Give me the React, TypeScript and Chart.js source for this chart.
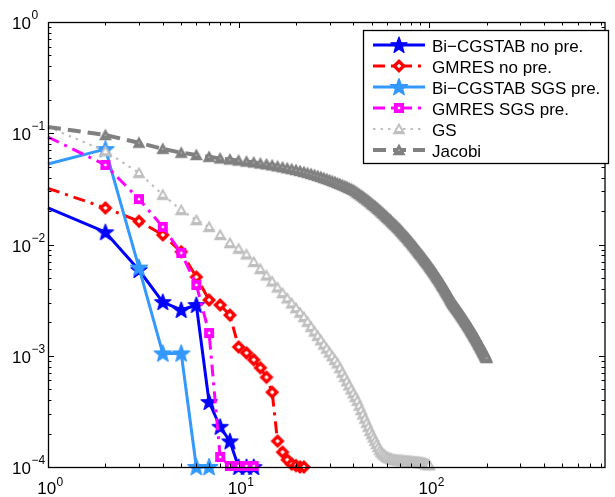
import React, { useEffect, useRef } from "react";
import { Chart, registerables } from "chart.js";

Chart.register(...registerables);

// ---------------- data (residual vs. iteration, iteration = index + 1) ----------------
const SERIES_NAMES = [
  "Bi−CGSTAB no pre.",
  "GMRES no pre.",
  "Bi−CGSTAB SGS pre.",
  "GMRES SGS pre.",
  "GS",
  "Jacobi",
];

const BICG_NOPRE = [0.0213, 0.0129, 0.0059, 0.00304, 0.00258, 0.00286, 0.000384, 0.00023, 0.00017, 0.0001, 0.0001, 0.0001];

const GMRES_NOPRE = [
  0.032, 0.0213, 0.0162, 0.0122, 0.0086, 0.0051, 0.00317, 0.00286, 0.00232, 0.0012,
  0.00106, 0.00092, 0.00078, 0.00064, 0.00047, 0.000171, 0.000136, 0.000116, 0.000106, 0.000103,
  0.0001, 0.0001,
];

const BICG_SGS = [0.053, 0.072, 0.0062, 0.00105, 0.00105, 0.0001, 0.0001];

const GMRES_SGS = [0.0925, 0.0519, 0.0256, 0.0144, 0.0084, 0.00433, 0.0016, 0.000123, 0.000102, 0.000102, 0.000102, 0.000102];

const GS = [
  0.114, 0.069, 0.044, 0.028, 0.0204, 0.0166, 0.0144, 0.0122, 0.0103, 0.00916,
  0.00815, 0.00697, 0.00603, 0.00527, 0.00465, 0.00411, 0.00366, 0.00328, 0.00296, 0.00268,
  0.00244, 0.00223, 0.00202, 0.00182, 0.00165, 0.00151, 0.00138, 0.00126, 0.00116, 0.00107,
  0.00099, 0.000918, 0.000855, 0.000774, 0.000705, 0.000646, 0.00059, 0.000542, 0.000499, 0.00046,
  0.000426, 0.000393, 0.000356, 0.000325, 0.000297, 0.000272, 0.00025, 0.00023, 0.000211, 0.000197,
  0.000184, 0.000172, 0.000161, 0.000151, 0.000142, 0.000136, 0.000132, 0.000129, 0.000126, 0.000123,
  0.000121, 0.00012, 0.000119, 0.0001175, 0.0001167, 0.0001161, 0.0001156, 0.0001153, 0.0001151, 0.0001148,
  0.0001145, 0.0001143, 0.000114, 0.0001138, 0.0001135, 0.0001132, 0.000113, 0.0001127, 0.0001125, 0.0001122,
  0.0001119, 0.0001117, 0.0001114, 0.0001112, 0.0001109, 0.0001107, 0.0001104, 0.0001102, 0.0001099, 0.0001096,
  0.0001094, 0.0001091, 0.0001086, 0.0001081, 0.0001076, 0.0001069, 0.0001062, 0.0001054, 0.0001047, 0.000104,
];

const JACOBI = [
  0.114, 0.0964, 0.0822, 0.0724, 0.0668, 0.0638, 0.0614, 0.0594, 0.0581, 0.0569,
  0.0557, 0.0547, 0.0536, 0.0526, 0.0515, 0.0505, 0.0495, 0.0485, 0.0476, 0.0467,
  0.0458, 0.0449, 0.044, 0.0431, 0.0422, 0.0413, 0.0405, 0.0396, 0.0388, 0.038,
  0.0372, 0.0365, 0.0357, 0.035, 0.0343, 0.0336, 0.0329, 0.0322, 0.0316, 0.0309,
  0.0301, 0.0292, 0.0284, 0.0276, 0.0269, 0.0261, 0.0254, 0.0247, 0.024, 0.0233,
  0.0227, 0.0221, 0.0215, 0.0209, 0.0203, 0.0198, 0.0192, 0.0187, 0.0182, 0.0177,
  0.0172, 0.0168, 0.0164, 0.0159, 0.0155, 0.0151, 0.0148, 0.0144, 0.014, 0.0137,
  0.0133, 0.013, 0.0126, 0.0123, 0.012, 0.0117, 0.0114, 0.0111, 0.0108, 0.0106,
  0.0103, 0.01, 0.0098, 0.00955, 0.00929, 0.00906, 0.00883, 0.00861, 0.00839, 0.0082,
  0.00802, 0.00782, 0.00764, 0.00746, 0.00729, 0.00711, 0.00695, 0.00679, 0.00664, 0.00647,
  0.00632, 0.00618, 0.00604, 0.00589, 0.00575, 0.00562, 0.0055, 0.00537, 0.00524, 0.00512,
  0.005, 0.00489, 0.00476, 0.00466, 0.00455, 0.00445, 0.00434, 0.00424, 0.00414, 0.00405,
  0.00395, 0.00385, 0.00377, 0.00368, 0.0036, 0.00351, 0.00343, 0.00335, 0.00327, 0.00319,
  0.00312, 0.00305, 0.00298, 0.00293, 0.00288, 0.00283, 0.00279, 0.00274, 0.00269, 0.00264,
  0.0026, 0.00256, 0.00251, 0.00247, 0.00243, 0.00239, 0.00235, 0.00231, 0.00227, 0.00223,
  0.00219, 0.00216, 0.00212, 0.00208, 0.00205, 0.00201, 0.00198, 0.00195, 0.00191, 0.00188,
  0.00185, 0.00182, 0.00179, 0.00176, 0.00173, 0.0017, 0.00167, 0.00164, 0.00161, 0.00159,
  0.00156, 0.00153, 0.00151, 0.00148, 0.00146, 0.00144, 0.00141, 0.00139, 0.00136, 0.00134,
  0.00132, 0.00129, 0.00127, 0.00125, 0.00123, 0.00121, 0.00119, 0.00117, 0.00115, 0.00113,
  0.00111, 0.00109, 0.00107, 0.00106, 0.00104, 0.00102, 0.001, 0.000986, 0.00097, 0.000955,
];

const X_MIN = 1;
const X_MAX = 836;
const Y_MIN = 1e-4;
const Y_MAX = 1;
const X_MAJOR = [1, 10, 100];
const X_MAJOR_EXP = ["0", "1", "2"];
const Y_MAJOR = [1e-4, 1e-3, 1e-2, 1e-1, 1];
const Y_MAJOR_EXP = ["−4", "−3", "−2", "−1", "0"];

// ---------------- styles ----------------
const COLORS = ["#0000ff", "#ff0000", "#3399ff", "#ff00ff", "#bfbfbf", "#808080"];
const WIDTHS = [3, 3, 3, 3, 2.2, 4];
const DASHES: number[][] = [[], [12, 6, 3, 6], [], [12, 6, 3, 6], [2.5, 5], [13, 7]];
const MARKERS = ["star", "diamond", "star", "square", "triangle", "triangleFilled"];
const FONT = '"Liberation Sans", Arial, Helvetica, sans-serif';

function makeMarker(kind: string, color: string, big: boolean): HTMLCanvasElement {
  const c = document.createElement("canvas");
  const S = 24;
  c.width = S;
  c.height = S;
  const g = c.getContext("2d")!;
  const cx = S / 2;
  const cy = S / 2;
  g.fillStyle = color;
  g.strokeStyle = color;
  if (kind === "star") {
    const R = big ? 9 : 8.5;
    const r = R * 0.42;
    g.beginPath();
    for (let i = 0; i < 10; i++) {
      const a = -Math.PI / 2 + (i * Math.PI) / 5;
      const rr = i % 2 === 0 ? R : r;
      g.lineTo(cx + rr * Math.cos(a), cy + 0.5 + rr * Math.sin(a));
    }
    g.closePath();
    g.fill();
    g.lineWidth = 1.2;
    g.lineJoin = "round";
    g.stroke();
  } else if (kind === "diamond") {
    const R = 7;
    g.beginPath();
    g.moveTo(cx, cy - R);
    g.lineTo(cx + R, cy);
    g.lineTo(cx, cy + R);
    g.lineTo(cx - R, cy);
    g.closePath();
    g.fill();
    const r = 2.3;
    g.fillStyle = "#ffffff";
    g.beginPath();
    g.moveTo(cx, cy - r);
    g.lineTo(cx + r, cy);
    g.lineTo(cx, cy + r);
    g.lineTo(cx - r, cy);
    g.closePath();
    g.fill();
  } else if (kind === "square") {
    g.fillRect(cx - 5, cy - 5, 10, 10);
    g.fillStyle = "#ffffff";
    g.fillRect(cx - 1.2, cy - 1.2, 2.4, 2.4);
  } else {
    const h = 6.5;
    const tri = (s: number) => {
      g.beginPath();
      g.moveTo(cx, cy - h * s);
      g.lineTo(cx + h * s, cy + h * 0.8 * s);
      g.lineTo(cx - h * s, cy + h * 0.8 * s);
      g.closePath();
      g.fill();
    };
    tri(1);
    g.fillStyle = "#ffffff";
    tri(kind === "triangle" ? 0.38 : 0.12);
  }
  return c;
}

function drawSup(ctx: CanvasRenderingContext2D, x: number, baseY: number, exp: string, expY: number) {
  ctx.font = `17px ${FONT}`;
  ctx.fillText("10", x, baseY);
  const w = ctx.measureText("10").width;
  ctx.font = `12px ${FONT}`;
  ctx.fillText(exp, x + w + 0.5, expY);
}

const axesPlugin = {
  id: "matlabAxes",
  afterDatasetsDraw(chart: any) {
    const { ctx, chartArea: a, scales } = chart;
    const xs = scales.x;
    const ys = scales.y;
    ctx.save();
    ctx.strokeStyle = "#000";
    ctx.fillStyle = "#000";
    ctx.lineWidth = 1;
    // ticks
    const tick = (x1: number, y1: number, x2: number, y2: number) => {
      ctx.beginPath();
      ctx.moveTo(x1, y1);
      ctx.lineTo(x2, y2);
      ctx.stroke();
    };
    for (let e = 0; e <= 3; e++) {
      for (let m = 1; m <= 9; m++) {
        const v = m * Math.pow(10, e);
        if (v < X_MIN || v > X_MAX) continue;
        const px = Math.round(xs.getPixelForValue(v)) + 0.5;
        const len = m === 1 ? 6 : 3.5;
        tick(px, a.bottom, px, a.bottom - len);
        tick(px, a.top, px, a.top + len);
      }
    }
    for (let e = -4; e <= 0; e++) {
      for (let m = 1; m <= 9; m++) {
        const v = m * Math.pow(10, e);
        if (v < Y_MIN * 0.999 || v > Y_MAX * 1.001) continue;
        const py = Math.round(ys.getPixelForValue(v)) + 0.5;
        const len = m === 1 ? 6 : 3.5;
        tick(a.left, py, a.left + len, py);
        tick(a.right, py, a.right - len, py);
      }
    }
    // box
    ctx.lineWidth = 1.3;
    ctx.strokeRect(a.left + 0.5, a.top + 0.5, a.right - a.left - 0.5, a.bottom - a.top);
    // tick labels
    ctx.textBaseline = "alphabetic";
    ctx.textAlign = "left";
    X_MAJOR.forEach((v, i) => {
      const px = xs.getPixelForValue(v);
      ctx.font = `17px ${FONT}`;
      const w10 = ctx.measureText("10").width;
      ctx.font = `12px ${FONT}`;
      const we = ctx.measureText(X_MAJOR_EXP[i]).width;
      const start = px - (w10 + we) / 2 + 2;
      drawSup(ctx, start, a.bottom + 27, X_MAJOR_EXP[i], a.bottom + 19);
    });
    Y_MAJOR.forEach((v, i) => {
      const py = ys.getPixelForValue(v);
      drawSup(ctx, 12, py + 7, Y_MAJOR_EXP[i], py - 3);
    });
    ctx.restore();
  },
};

const legendPlugin = {
  id: "matlabLegend",
  afterDraw(chart: any) {
    const { ctx } = chart;
    const box = { x: 363, y: 30, w: 245, h: 133 };
    ctx.save();
    ctx.fillStyle = "#ffffff";
    ctx.fillRect(box.x, box.y, box.w, box.h);
    ctx.strokeStyle = "#000";
    ctx.lineWidth = 1.3;
    ctx.strokeRect(box.x + 0.5, box.y + 0.5, box.w, box.h);
    chart.data.datasets.forEach((ds: any, i: number) => {
      const y = 45 + i * 21;
      ctx.save();
      ctx.strokeStyle = ds.borderColor;
      ctx.lineWidth = ds.borderWidth;
      ctx.setLineDash(ds.borderDash || []);
      ctx.beginPath();
      ctx.moveTo(373, y);
      ctx.lineTo(425, y);
      ctx.stroke();
      ctx.restore();
      const mk: HTMLCanvasElement = ds.pointStyle;
      ctx.drawImage(mk, 399 - mk.width / 2, y - mk.height / 2);
      ctx.fillStyle = "#000";
      ctx.font = `17px ${FONT}`;
      ctx.textBaseline = "alphabetic";
      ctx.textAlign = "left";
      ctx.fillText(SERIES_NAMES[i], 432, y + 6.5);
    });
    ctx.restore();
  },
};

export default function App() {
  const canvasRef = useRef<HTMLCanvasElement | null>(null);

  useEffect(() => {
    document.body.style.margin = "0";
    const canvas = canvasRef.current;
    if (!canvas) return;
    const values = [BICG_NOPRE, GMRES_NOPRE, BICG_SGS, GMRES_SGS, GS, JACOBI];
    const datasets = values.map((vals, i) => ({
      label: SERIES_NAMES[i],
      data: vals.map((y, k) => ({ x: k + 1, y })),
      borderColor: COLORS[i],
      backgroundColor: COLORS[i],
      borderWidth: WIDTHS[i],
      borderDash: DASHES[i],
      borderCapStyle: "butt" as const,
      borderJoinStyle: "round" as const,
      pointStyle: makeMarker(MARKERS[i], COLORS[i], i === 2),
      pointRadius: (c: any) => (c.dataIndex === 0 ? 0 : 6),
      pointHoverRadius: 0,
      tension: 0,
      fill: false,
      clip: false as any,
      order: 10 - i,
    }));
    const chart = new Chart(canvas, {
      type: "line",
      data: { datasets },
      options: {
        animation: false,
        responsive: false,
        events: [],
        layout: { padding: { left: 48, top: 22, right: 4, bottom: 30 } },
        plugins: { legend: { display: false }, tooltip: { enabled: false } },
        scales: {
          x: { type: "logarithmic", min: X_MIN, max: X_MAX, display: false },
          y: { type: "logarithmic", min: Y_MIN, max: Y_MAX, display: false },
        },
      },
      plugins: [axesPlugin, legendPlugin],
    } as any);
    return () => chart.destroy();
  }, []);

  return (
    <div style={{ width: 615, height: 497, position: "relative", background: "#fff" }}>
      <canvas ref={canvasRef} width={615} height={497} style={{ display: "block" }} />
    </div>
  );
}
